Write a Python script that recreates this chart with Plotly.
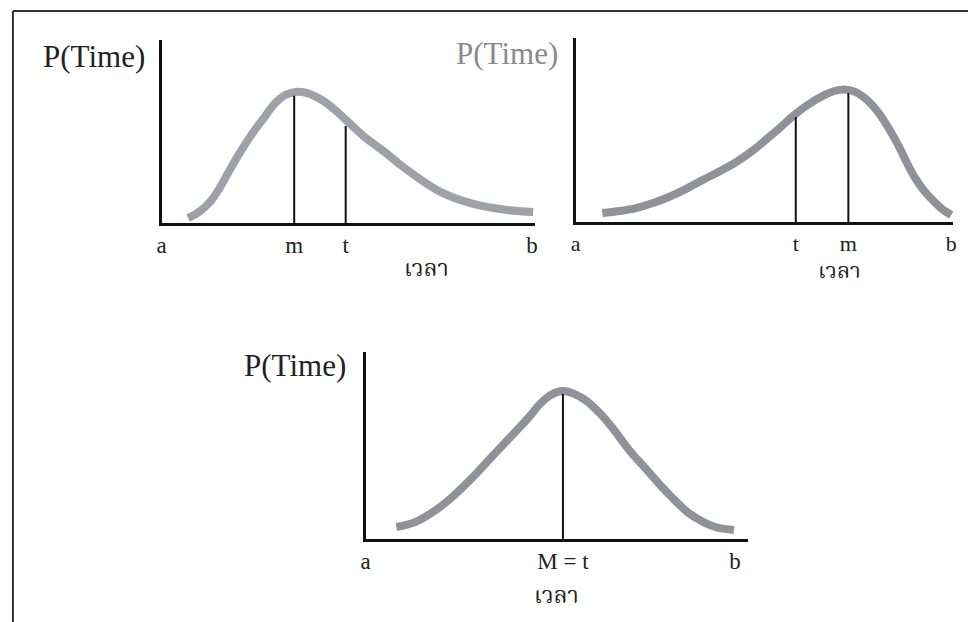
import plotly.graph_objects as go

W, H = 972, 622

# ---- data (a = 0, b = 10 on every time axis) ----
# Panel 1: long right tail, mode m before expected time t
p1_x = [0.72, 1.02, 1.31, 1.58, 1.84, 2.14, 2.46, 2.78, 3.07, 3.34, 3.61, 3.93,
        4.33, 4.65, 4.92, 5.45, 6.02, 6.42, 6.82, 7.54, 8.34, 9.33, 10.03]
p1_y = [0.27, 0.62, 1.15, 1.95, 2.90, 3.93, 4.92, 5.79, 6.56, 6.99, 7.16, 7.10,
        6.72, 6.23, 5.74, 4.75, 3.88, 3.22, 2.62, 1.69, 1.09, 0.71, 0.60]
p1_labels = ["a", "m", "t", "b"]
p1_label_x = [0.0, 3.58, 4.97, 10.0]
p1_mark_x = [3.58, 4.97]
p1_mark_top = [6.95, 5.3]

# Panel 2: long left tail, expected time t before mode m
p2_x = [0.71, 1.16, 1.61, 2.06, 2.48, 2.93, 3.35, 3.80, 4.25, 4.70, 5.12, 5.44, 5.73, 6.17,
        6.62, 6.89, 7.15, 7.44, 7.76, 8.07, 8.36, 8.60, 8.81, 9.02, 9.26, 9.53, 9.79, 10.0]
p2_y = [0.49, 0.60, 0.76, 1.03, 1.36, 1.79, 2.25, 2.72, 3.23, 3.86, 4.57, 5.12, 5.66, 6.36,
        6.90, 7.12, 7.20, 7.07, 6.63, 5.92, 5.00, 4.13, 3.25, 2.45, 1.74, 1.14, 0.65, 0.38]
p2_labels = ["a", "t", "m", "b"]
p2_label_x = [0.0, 5.86, 7.26, 10.0]
p2_mark_x = [5.86, 7.26]
p2_mark_top = [5.7, 7.0]

# Panel 3: symmetric, mode equals expected time
p3_x = [0.83, 1.37, 1.90, 2.25, 2.63, 3.06, 3.51, 3.97, 4.40, 4.72, 5.01, 5.34,
        5.66, 5.98, 6.34, 6.68, 7.13, 7.59, 8.02, 8.39, 8.74, 9.09, 9.46, 9.97]
p3_y = [0.64, 0.93, 1.55, 2.09, 2.78, 3.64, 4.60, 5.56, 6.47, 7.22, 7.70, 7.91,
        7.75, 7.38, 6.72, 5.94, 4.76, 3.74, 2.78, 2.03, 1.39, 0.96, 0.64, 0.48]
p3_labels = ["a", "M = t", "b"]
p3_label_x = [0.0, 5.34, 10.0]
p3_mark_x = [5.34]
p3_mark_top = [7.75]

y_title = "P(Time)"
x_title = "เวลา"

SERIF = "Liberation Serif, Times New Roman, serif"
THAI = "Noto Serif Thai, Noto Sans Thai, Loma, Garuda, Norasi, sans-serif"

# pixel frames of each panel: (left, right, bottom, top) and the x range end
panels = [
    dict(x=p1_x, y=p1_y, lab=p1_labels, labx=p1_label_x, mx=p1_mark_x, mt=p1_mark_top,
         px=(158, 535, 223, 40), xmax=10.08, color="#9ea1a8", tick=23,
         ytitle=(143, 57, "#222"), xtitle=(7.14, 270, 23)),
    dict(x=p2_x, y=p2_y, lab=p2_labels, labx=p2_label_x, mx=p2_mark_x, mt=p2_mark_top,
         px=(576, 957, 222, 38), xmax=10.05, color="#8f9299", tick=22,
         ytitle=(560, 53, "#8a8a8a"), xtitle=(7.02, 273, 22)),
    dict(x=p3_x, y=p3_y, lab=p3_labels, labx=p3_label_x, mx=p3_mark_x, mt=p3_mark_top,
         px=(364, 750, 539, 352), xmax=10.35, color="#8f9299", tick=23,
         ytitle=(346, 365, "#222"), xtitle=(5.17, 597, 23)),
]

fig = go.Figure()
annotations = []
layout_axes = {}

for i, p in enumerate(panels, start=1):
    sfx = "" if i == 1 else str(i)
    xa, ya = "x" + sfx, "y" + sfx
    left, right, bottom, top = p["px"]

    # density curve
    fig.add_trace(go.Scatter(
        x=p["x"], y=p["y"], xaxis=xa, yaxis=ya, mode="lines",
        line=dict(color=p["color"], width=8, shape="spline", smoothing=1.1),
        hoverinfo="skip", showlegend=False))

    # vertical marker lines for m / t
    for mx, mt in zip(p["mx"], p["mt"]):
        fig.add_trace(go.Scatter(
            x=[mx, mx], y=[0, mt], xaxis=xa, yaxis=ya, mode="lines",
            line=dict(color="#111", width=2), hoverinfo="skip", showlegend=False))

    layout_axes["xaxis" + sfx] = dict(
        domain=[left / W, right / W], range=[0, p["xmax"]], anchor=ya,
        showline=True, linecolor="#111", linewidth=2.5, showgrid=False, zeroline=False,
        tickmode="array", tickvals=p["labx"], ticktext=p["lab"], ticks="",
        tickfont=dict(family=SERIF, size=p["tick"], color="#222"), ticklabelstandoff=0,
        fixedrange=True)
    layout_axes["yaxis" + sfx] = dict(
        domain=[1 - bottom / H, 1 - top / H], range=[0, 10], anchor=xa,
        showline=True, linecolor="#111", linewidth=2.5, showgrid=False, zeroline=False,
        showticklabels=False, ticks="", fixedrange=True)

    tx, ty, tc = p["ytitle"]
    annotations.append(dict(
        text=y_title, xref="paper", yref="paper", x=tx / W, y=1 - ty / H,
        xanchor="right", yanchor="middle", showarrow=False,
        font=dict(family=SERIF, size=31, color=tc)))

    lx, ly, ls = p["xtitle"]
    annotations.append(dict(
        text=x_title, xref=xa, yref="paper", x=lx, y=1 - ly / H,
        xanchor="center", yanchor="middle", showarrow=False,
        font=dict(family=THAI, size=ls, color="#222")))

# outer frame (top and left rules)
shapes = [
    dict(type="line", xref="paper", yref="paper", x0=8 / W, x1=1, y0=1 - 11 / H, y1=1 - 11 / H,
         line=dict(color="#333", width=2)),
    dict(type="line", xref="paper", yref="paper", x0=8 / W, x1=8 / W, y0=0, y1=1 - 11 / H,
         line=dict(color="#333", width=2)),
]

fig.update_layout(
    width=W, height=H, margin=dict(l=0, r=0, t=0, b=0),
    paper_bgcolor="white", plot_bgcolor="rgba(0,0,0,0)",
    annotations=annotations, shapes=shapes, showlegend=False,
    **layout_axes)

fig.write_html("out.html", config=dict(displayModeBar=False))
